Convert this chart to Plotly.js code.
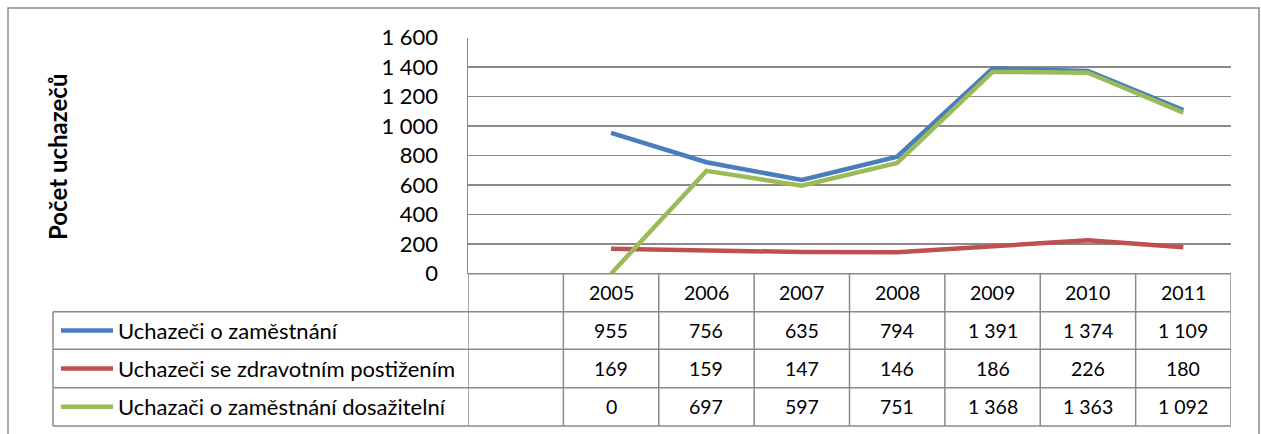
<!DOCTYPE html>
<html>
<head>
<meta charset="utf-8">
<script src="https://cdn.plot.ly/plotly-3.0.1.min.js"></script>
<style>
  html, body { margin: 0; padding: 0; background: #fff; }
  #chart { width: 1261px; height: 434px; }
</style>
</head>
<body>
<div id="chart"></div>
<script>
// data
const years = [2005, 2006, 2007, 2008, 2009, 2010, 2011];
const seriesNames = [
    'Uchazeči o zaměstnání',
    'Uchazeči se zdravotním postižením',
    'Uchazači o zaměstnání dosažitelní'
];
const uchazeci = [955, 756, 635, 794, 1391, 1374, 1109];
const postizeni = [169, 159, 147, 146, 186, 226, 180];
const dosazitelni = [0, 697, 597, 751, 1368, 1363, 1092];
const seriesColors = ['#4A7EBB', '#C0504D', '#9BBB59'];
const yTitle = 'Počet uchazečů';

const W = 1261, H = 434;
const px = x => x / W;
const py = y => 1 - y / H;
const FONT = 'Lato, "Open Sans", sans-serif';
const GRID = '#8a8a8a';

const fmt = v => String(v).replace(/\B(?=(\d{3})+(?!\d))/g, ' ');

const allSeries = [uchazeci, postizeni, dosazitelni];

const data = allSeries.map((vals, i) => ({
    x: years,
    y: vals,
    name: seriesNames[i],
    type: 'scatter',
    mode: 'lines',
    line: { color: seriesColors[i], width: 4.5 },
    hoverinfo: 'x+y',
}));

// table geometry (pixels)
const plotTop = 37.7, plotBottom = 273.7;
const tableLeft = 53, tableRight = 1231;
const rowLines = [273.7, 311.7, 349.3, 387.7, 426];

const shapes = [];
const annotations = [];

// outer frame
shapes.push({
    type: 'rect', xref: 'paper', yref: 'paper',
    x0: px(8), x1: px(1259), y0: py(440), y1: py(8),
    line: { color: '#8c8c8c', width: 1.5 },
});

// horizontal table lines
rowLines.forEach((y, i) => {
    shapes.push({
        type: 'line', xref: 'paper', yref: 'paper',
        x0: px(i === 0 ? 468 : tableLeft), x1: px(tableRight),
        y0: py(y), y1: py(y),
        line: { color: GRID, width: 1.5 },
    });
});

// vertical table lines at category boundaries
const bounds = [years[0] - 1.5].concat(years.map(y => y - 0.5), [years[years.length - 1] + 0.5]);
bounds.forEach(b => {
    shapes.push({
        type: 'line', xref: 'x', yref: 'paper',
        x0: b, x1: b, y0: py(rowLines[0]), y1: py(rowLines[4]),
        line: { color: GRID, width: 1.5 },
    });
});
shapes.push({
    type: 'line', xref: 'paper', yref: 'paper',
    x0: px(tableLeft), x1: px(tableLeft), y0: py(rowLines[1]), y1: py(rowLines[4]),
    line: { color: GRID, width: 1.5 },
});

// header row: years
years.forEach(yr => {
    annotations.push({
        x: yr, xref: 'x', y: py((rowLines[0] + rowLines[1]) / 2), yref: 'paper',
        text: String(yr), showarrow: false, xanchor: 'center', yanchor: 'middle',
        font: { family: FONT, size: 19.5, color: '#000' },
    });
});

// data rows: legend key + values
allSeries.forEach((vals, i) => {
    const yc = (rowLines[i + 1] + rowLines[i + 2]) / 2;
    shapes.push({
        type: 'line', xref: 'paper', yref: 'paper',
        x0: px(61), x1: px(113), y0: py(yc), y1: py(yc),
        line: { color: seriesColors[i], width: 4.5 },
    });
    annotations.push({
        x: px(116), xref: 'paper', y: py(yc), yref: 'paper',
        text: seriesNames[i], showarrow: false, xanchor: 'left', yanchor: 'middle',
        font: { family: FONT, size: 22, color: '#000' },
    });
    vals.forEach((v, j) => {
        annotations.push({
            x: years[j], xref: 'x', y: py(yc), yref: 'paper',
            text: fmt(v), showarrow: false, xanchor: 'center', yanchor: 'middle',
            font: { family: FONT, size: 19.5, color: '#000' },
        });
    });
});

// y axis title
annotations.push({
    x: px(58), xref: 'paper', y: py(157), yref: 'paper',
    text: '<b>' + yTitle + '</b>', textangle: -90, showarrow: false,
    xanchor: 'center', yanchor: 'middle',
    font: { family: FONT, size: 24, color: '#000' },
});

const layout = {
    width: W,
    height: H,
    margin: { l: 0, r: 0, t: 0, b: 0 },
    paper_bgcolor: '#fff',
    plot_bgcolor: '#fff',
    showlegend: false,
    xaxis: {
        domain: [px(468), px(1231)],
        range: [years[0] - 1.5, years[years.length - 1] + 0.5],
        showgrid: false,
        zeroline: false,
        showticklabels: false,
        showline: false,
        ticks: '',
        fixedrange: true,
    },
    yaxis: {
        domain: [py(plotBottom), py(plotTop)],
        range: [0, 1600],
        tickvals: [0, 200, 400, 600, 800, 1000, 1200, 1400, 1600],
        ticktext: [0, 200, 400, 600, 800, 1000, 1200, 1400, 1600].map(fmt),
        showgrid: true,
        gridcolor: GRID,
        gridwidth: 1.5,
        zeroline: false,
        showline: true,
        linecolor: GRID,
        linewidth: 1.5,
        ticks: '',
        ticklabelstandoff: 24,
        tickfont: { family: FONT, size: 22, color: '#000' },
        fixedrange: true,
    },
    shapes: shapes,
    annotations: annotations,
};

Plotly.newPlot('chart', data, layout, { displayModeBar: false, staticPlot: true });
</script>
</body>
</html>
